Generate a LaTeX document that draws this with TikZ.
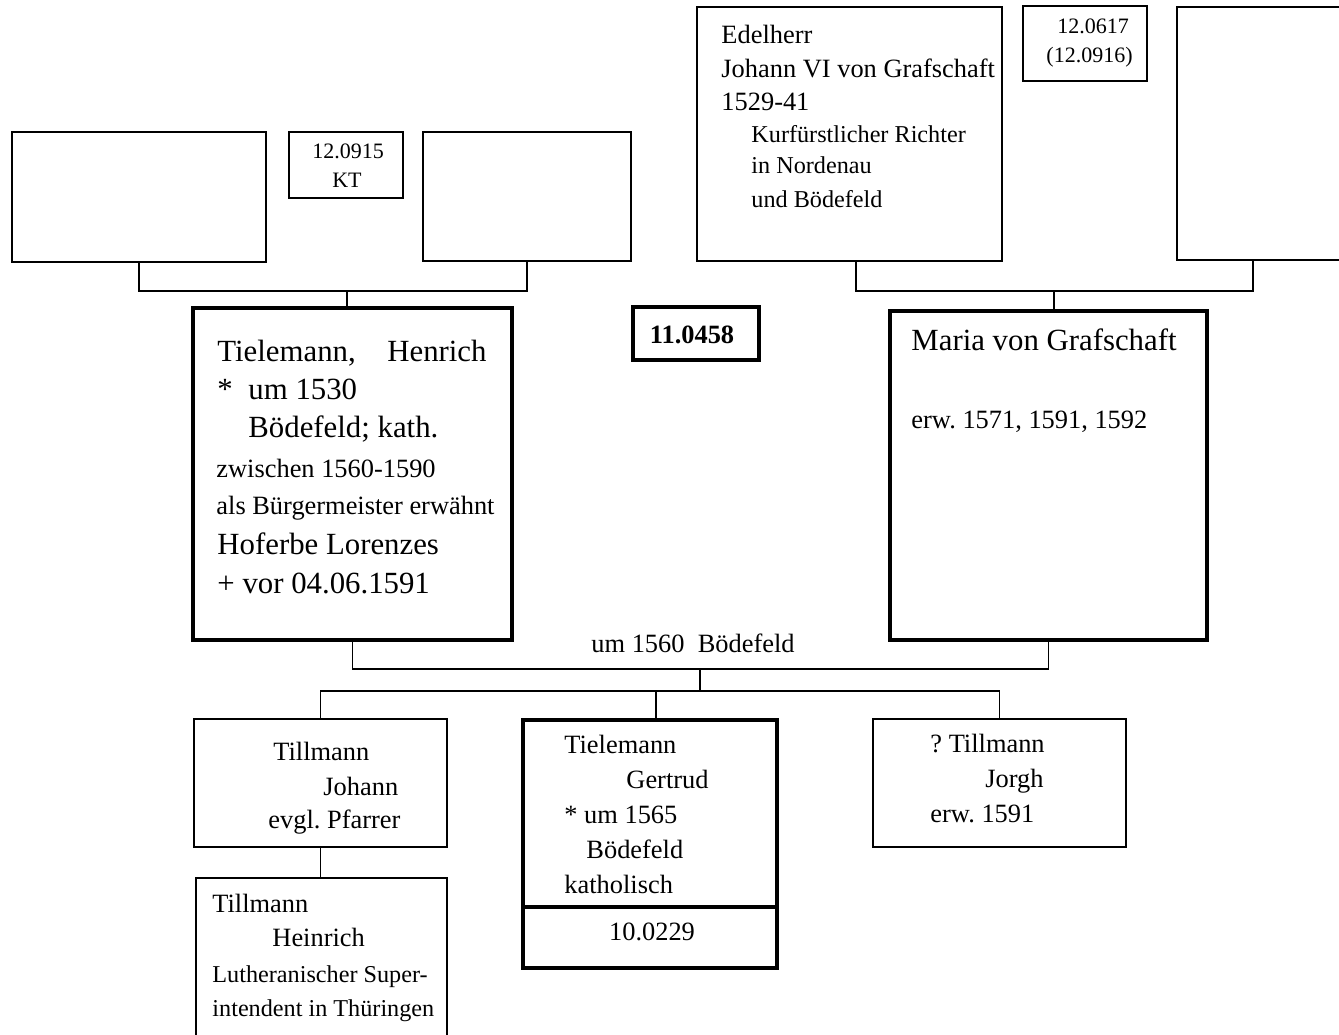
\documentclass[tikz,border=0pt]{standalone}
\usepackage{fontspec}
\setmainfont{Liberation Serif}
\usetikzlibrary{fit}
\frenchspacing
\tikzset{
  box/.style={draw, line width=0.85pt, inner sep=0pt},
  heavybox/.style={draw, line width=1.9pt, inner sep=0pt},
  link/.style={line width=0.85pt},
  txt/.style={anchor=base west, inner sep=0pt},
  txtc/.style={anchor=base, inner sep=0pt},
  txte/.style={anchor=base east, inner sep=0pt},
  fxiv/.style={font=\fontsize{14}{16}\selectfont},
  fxii/.style={font=\fontsize{12}{14}\selectfont},
  fxi/.style={font=\fontsize{11}{13}\selectfont},
  fx/.style={font=\fontsize{10}{12}\selectfont},
}
\begin{document}
\begin{tikzpicture}[x=0.4545pt, y=-0.4545pt]
\useasboundingbox (0,0) rectangle (1339,1034);

% grandparents, paternal side
\node[box, fit={(12,132) (266,262)}] (A) {};
\node[box, fit={(289,132) (403,198)}] (KT) {};
\node[box, fit={(423,132) (631,261)}] (B) {};
\node[txtc, fx] (kt1) at (348,158) {12.0915};
\node[txtc, fx] (kt2) at (347,187) {KT};

% grandparents, maternal side
\node[box, fit={(697,7) (1002,261)}] (Edel) {};
\node[box, fit={(1023,6) (1147,81)}] (Nr) {};
\node[box, fit={(1177,7) (1420,260)}] (R) {};
\node[txt, fxii] (e1) at (721,43) {Edelherr};
\node[txt, fxii] (e2) at (721,77) {Johann VI von Grafschaft};
\node[txt, fxii] (e3) at (721,110) {1529-41};
\node[txt, fxi] (e4) at (751,142) {Kurfürstlicher Richter};
\node[txt, fxi] (e5) at (751,173) {in Nordenau};
\node[txt, fxi] (e6) at (751,207) {und Bödefeld};
\node[txt, fx] (n1) at (1057,33) {12.0617};
\node[txt, fx] (n2) at (1046,62) {(12.0916)};

% parents
\node[heavybox, fit={(193,308) (512,640)}] (Hen) {};
\node[heavybox, fit={(633,307) (759,360)}] (Num) {};
\node[heavybox, fit={(890,311) (1207,640)}] (Mar) {};
\node[txtc, font=\fontsize{12}{14}\selectfont\bfseries] (numt) at (692,343) {11.0458};

\node[txt, fxiv] (h1) at (217,361) {Tielemann,};
\node[txte, fxiv] (h1b) at (487,361) {Henrich};
\node[txt, fxiv] (h2) at (217,399) {*};
\node[txt, fxiv] (h2b) at (248,399) {um 1530};
\node[txt, fxiv] (h3) at (248,437) {Bödefeld; kath.};
\node[txt, fxii] (h4) at (216,477) {zwischen 1560-1590};
\node[txt, fxii] (h5) at (216,514) {als Bürgermeister erwähnt};
\node[txt, fxiv] (h6) at (217,554) {Hoferbe Lorenzes};
\node[txt, fxiv] (h7) at (217,593) {+ vor 04.06.1591};

\node[txt, fxiv] (m1) at (911,350) {Maria von Grafschaft};
\node[txt, fxii] (m2) at (911,428) {erw. 1571, 1591, 1592};

\node[txt, fxii] (wed) at (591,652) {um 1560~~Bödefeld};

% children
\node[box, fit={(194,719) (447,847)}] (Joh) {};
\node[box, fit={(196,878) (447,1100)}] (Hein) {};
\node[heavybox, fit={(523,720) (777,907)}] (GerTop) {};
\node[heavybox, fit={(523,907) (777,968)}] (GerNum) {};
\node[box, fit={(873,719) (1126,847)}] (Jor) {};

\node[txt, fxii] (j1) at (273,760) {Tillmann};
\node[txt, fxii] (j2) at (323,795) {Johann};
\node[txt, fxii] (j3) at (268,828) {evgl. Pfarrer};

\node[txt, fxii] (hh1) at (212,912) {Tillmann};
\node[txt, fxii] (hh2) at (272,946) {Heinrich};
\node[txt, fxi] (hh3) at (212,982) {Lutheranischer Super-};
\node[txt, fxi] (hh4) at (212,1016) {intendent in Thüringen};

\node[txt, fxii] (g1) at (564,753) {Tielemann};
\node[txt, fxii] (g2) at (626,788) {Gertrud};
\node[txt, fxii] (g3) at (564,823) {* um 1565};
\node[txt, fxii] (g4) at (586,858) {Bödefeld};
\node[txt, fxii] (g5) at (564,893) {katholisch};
\node[txtc, fxii] (g6) at (652,940) {10.0229};

\node[txt, fxii] (o1) at (930,752) {? Tillmann};
\node[txt, fxii] (o2) at (985,787) {Jorgh};
\node[txt, fxii] (o3) at (930,822) {erw. 1591};

% junction points of the family lines
\coordinate (jHen) at (347,291);
\coordinate (jEdel) at (856,291);
\coordinate (jMar) at (1054,291);
\coordinate (jR) at (1253,291);
\coordinate (jCpl) at (700,669);
\coordinate (jKids) at (700,691);
\coordinate (jGer) at (656,691);

% connectors
\draw[link] (A.south) |- (jHen) -| (B.south);
\draw[link] (jHen) -- (jHen |- Hen.north);
\draw[link] (jEdel |- Edel.south) -- (jEdel) -- (jR) -- (jR |- R.south);
\draw[link] (jMar) -- (jMar |- Mar.north);
\draw[link] (Hen.south) |- (jCpl) -| (Mar.south);
\draw[link] (jCpl) -- (jKids);
\draw[link] (Joh.north) |- (jKids) -| (Jor.north);
\draw[link] (jGer) -- (jGer |- GerTop.north);
\draw[link] (Joh.south) -- (Joh.south |- Hein.north);
\end{tikzpicture}
\end{document}
